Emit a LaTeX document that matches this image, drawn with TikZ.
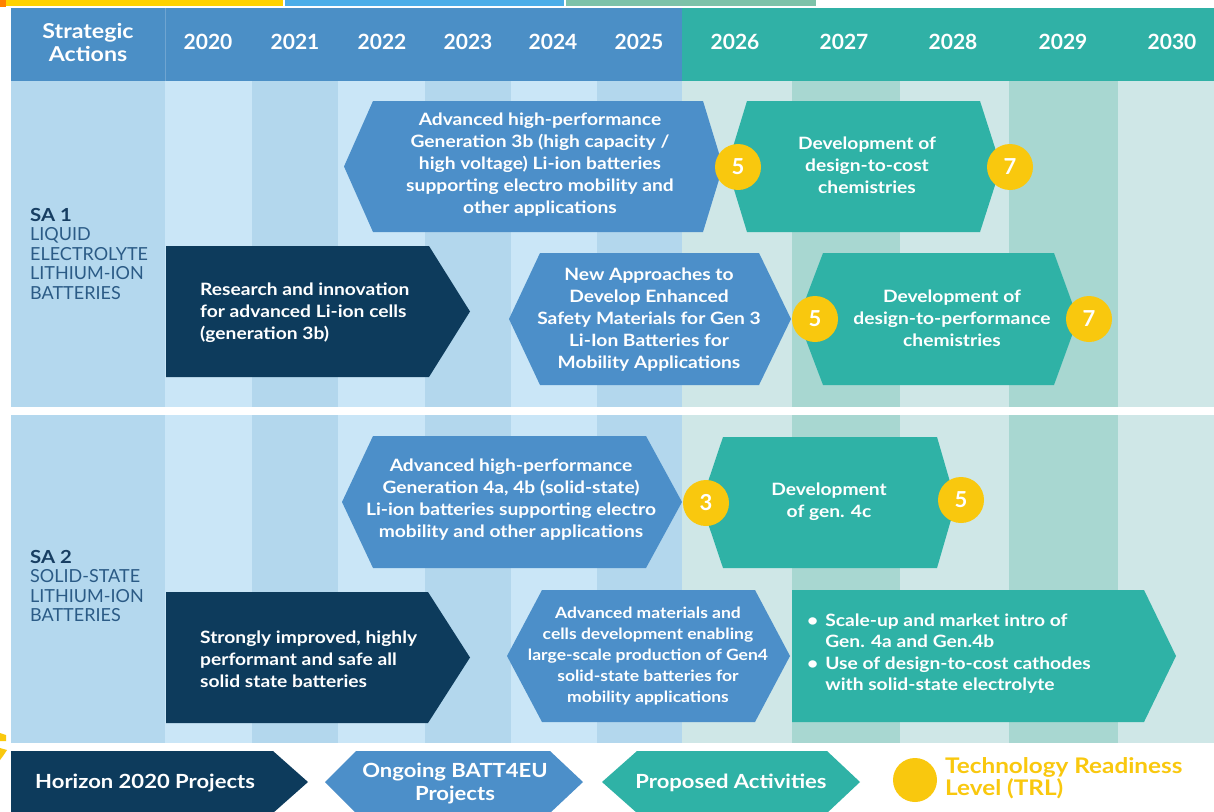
\documentclass[tikz,border=0pt]{standalone}
\usepackage{fontspec}
\setmainfont{Lato}[BoldFeatures={FakeStretch=1.13}]
\newfontfamily\plainlato{Lato}
\definecolor{navy}{HTML}{0D3B5C}
\definecolor{midblue}{HTML}{4C8FC9}
\definecolor{teal}{HTML}{2FB2A6}
\definecolor{trlyellow}{HTML}{F9C80E}
\definecolor{hdrblue}{HTML}{4B8FC6}
\definecolor{hdrgreen}{HTML}{30B1A6}
\definecolor{labcol}{HTML}{B4D8EE}
\definecolor{bluelight}{HTML}{CAE6F7}
\definecolor{bluedark}{HTML}{B3D7ED}
\definecolor{greenlight}{HTML}{CFE7E7}
\definecolor{greendark}{HTML}{A8D7D1}
\definecolor{satitle}{HTML}{173E62}
\definecolor{satext}{HTML}{2B5B86}
\definecolor{stripeyellow}{HTML}{FFD200}
\definecolor{stripeblue}{HTML}{4BADE8}
\definecolor{stripegreen}{HTML}{7DC2A9}
\newcommand\hexshape[7]{\fill[#1] (#2,{(#6+#7)/2}) -- (#3,#6) -- (#4,#6) -- (#5,{(#6+#7)/2}) -- (#4,#7) -- (#3,#7) -- cycle;}
\newcommand\arrshape[6]{\fill[#1] (#2,#5) -- (#3,#5) -- (#4,{(#5+#6)/2}) -- (#3,#6) -- (#2,#6) -- cycle;}
\begin{document}
\begin{tikzpicture}[x=1pt,y=-1pt,
  boxtxt/.style={text=white, font=\bfseries\fontsize{17}{22}\selectfont, align=center, inner sep=0pt},
  boxsmall/.style={text=white, font=\bfseries\fontsize{15.5}{21}\selectfont, align=center, inner sep=0pt},
  yeartxt/.style={text=white, font=\plainlato\bfseries\fontsize{21}{24}\selectfont, inner sep=0pt},
  trl/.style={circle, fill=trlyellow, minimum size=46pt, inner sep=0pt, text=white, font=\plainlato\bfseries\fontsize{22}{24}\selectfont},
  salabel/.style={text=satext, font=\fontsize{18}{19.5}\selectfont, align=left, anchor=north west, inner sep=0pt},
  legtxt/.style={text=white, font=\bfseries\fontsize{19.5}{23}\selectfont, inner sep=0pt, align=center}
]
\useasboundingbox (0,0) rectangle (1214,811);
\fill[white] (0,0) rectangle (1214,811);
% top stripes
\fill[orange] (0,0) rectangle (6,7);
\fill[stripeyellow] (6,0) rectangle (283,6);
\fill[stripeblue] (285,0) rectangle (564,6);
\fill[stripegreen] (566,0) rectangle (816,6);
% header
\fill[hdrblue] (11,8) rectangle (682,81);
\fill[hdrgreen] (682,8) rectangle (1214,81);
\draw[hdrblue!80!white, line width=0.8pt] (165,8) -- (165,81);
\node[text=white, font=\bfseries\fontsize{20.5}{23}\selectfont, align=center, inner sep=0pt] (hdr) at (88,42) {Strategic\\Actions};
\node[yeartxt] (y2020) at (208,42) {2020};
\node[yeartxt] (y2021) at (295,42) {2021};
\node[yeartxt] (y2022) at (382,42) {2022};
\node[yeartxt] (y2023) at (468,42) {2023};
\node[yeartxt] (y2024) at (553,42) {2024};
\node[yeartxt] (y2025) at (639,42) {2025};
\node[yeartxt] (y2026) at (735,42) {2026};
\node[yeartxt] (y2027) at (844,42) {2027};
\node[yeartxt] (y2028) at (953,42) {2028};
\node[yeartxt] (y2029) at (1063,42) {2029};
\node[yeartxt] (y2030) at (1172,42) {2030};
% column bands, both sections
\foreach \ya/\yb in {81/407, 415/743}{
  \fill[labcol] (11,\ya) rectangle (165,\yb);
  \fill[bluelight] (165,\ya) rectangle (252,\yb);
  \fill[bluedark] (252,\ya) rectangle (338,\yb);
  \fill[bluelight] (338,\ya) rectangle (425,\yb);
  \fill[bluedark] (425,\ya) rectangle (511,\yb);
  \fill[bluelight] (511,\ya) rectangle (597,\yb);
  \fill[bluedark] (597,\ya) rectangle (682,\yb);
  \fill[greenlight] (682,\ya) rectangle (792,\yb);
  \fill[greendark] (792,\ya) rectangle (900,\yb);
  \fill[greenlight] (900,\ya) rectangle (1009,\yb);
  \fill[greendark] (1009,\ya) rectangle (1118,\yb);
  \fill[greenlight] (1118,\ya) rectangle (1214,\yb);
}
% SA labels
\node[salabel] (sa1) at (30,208) {{\bfseries\color{satitle}SA 1}\\LIQUID\\ELECTROLYTE\\LITHIUM-ION\\BATTERIES};
\node[salabel] (sa2) at (30,550) {{\bfseries\color{satitle}SA 2}\\SOLID-STATE\\LITHIUM-ION\\BATTERIES};
% ---- Section 1 ----
\hexshape{midblue}{344}{373}{703}{723}{101}{232}
\node[boxtxt] (gen3b) at (540,165) {Advanced high-performance\\Generation 3b (high capacity /\\high voltage) Li-ion batteries\\supporting electro mobility and\\other applications};
\hexshape{teal}{727}{747}{980}{1001}{101}{232}
\node[boxtxt] (dtc) at (867,165) {Development of\\design-to-cost\\chemistries};
\node[trl] (c1a) at (738,167) {5};
\node[trl] (c1b) at (1010,167) {7};
\arrshape{navy}{166}{429}{470}{246}{377}
\node[boxtxt, align=left, anchor=west] (res) at (200,313) {Research and innovation\\for advanced Li-ion cells\\(generation 3b)};
\hexshape{midblue}{509}{540}{759}{791}{253}{385}
\node[boxtxt] (newapp) at (649,320) {New Approaches to\\Develop Enhanced\\Safety Materials for Gen 3\\Li-Ion Batteries for\\Mobility Applications};
\hexshape{teal}{798}{823}{1054}{1078}{253}{385}
\node[boxtxt] (dtp) at (952,318) {Development of\\design-to-performance\\chemistries};
\node[trl] (c2a) at (815,319) {5};
\node[trl] (c2b) at (1089,319) {7};
% ---- Section 2 ----
\hexshape{midblue}{342}{373}{646}{682}{436}{568}
\node[boxtxt] (gen4) at (511,500) {Advanced high-performance\\Generation 4a, 4b (solid-state)\\Li-ion batteries supporting electro\\mobility and other applications};
\hexshape{teal}{701}{723}{937}{956}{437}{568}
\node[boxtxt] (g4c) at (829,502) {Development\\of gen. 4c};
\node[trl] (c3a) at (706,503) {3};
\node[trl] (c3b) at (961,500) {5};
\arrshape{navy}{166}{428}{470}{592}{723}
\node[boxtxt, align=left, anchor=west] (strong) at (200,659) {Strongly improved, highly\\performant and safe all\\solid state batteries};
\hexshape{midblue}{507}{542}{755}{790}{590}{722}
\node[boxsmall] (advmat) at (648,656) {Advanced materials and\\cells development enabling\\large-scale production of Gen4\\solid-state batteries for\\mobility applications};
\arrshape{teal}{792}{1144}{1176}{590}{722}
\node[text=white, font=\bfseries\fontsize{17}{21.5}\selectfont, inner sep=0pt, anchor=west] (scale) at (807,654) {\renewcommand\arraystretch{1}\begin{tabular}{@{}l@{\hspace{7pt}}l@{}}\textbullet & Scale-up and market intro of\\ & Gen. 4a and Gen.4b\\ \textbullet & Use of design-to-cost cathodes\\ & with solid-state electrolyte\end{tabular}};
% ---- Legend ----
\arrshape{navy}{11}{273}{308}{751}{813}
\node[legtxt, anchor=west] (lh) at (35,783) {Horizon 2020 Projects};
\hexshape{midblue}{325}{356}{550}{583}{751}{813}
\node[legtxt] (lo) at (455,784) {Ongoing BATT4EU\\Projects};
\hexshape{teal}{602}{637}{827}{860}{751}{813}
\node[legtxt] (lp) at (731,783) {Proposed Activities};
\node[circle, fill=trlyellow, minimum size=44pt, inner sep=0pt] (lc) at (915,780) {};
\node[text=trlyellow, font=\bfseries\fontsize{21.5}{22}\selectfont, align=left, anchor=west, inner sep=0pt] (lt) at (945,778) {Technology Readiness\\Level (TRL)};
% stray yellow marks at left edge
\fill[trlyellow] (0,733) -- (6,735) -- (6,741) -- (0,741) -- cycle;
\fill[trlyellow] (0,748) -- (7,750) -- (3,756) -- (0,760) -- cycle;
\end{tikzpicture}
\end{document}
